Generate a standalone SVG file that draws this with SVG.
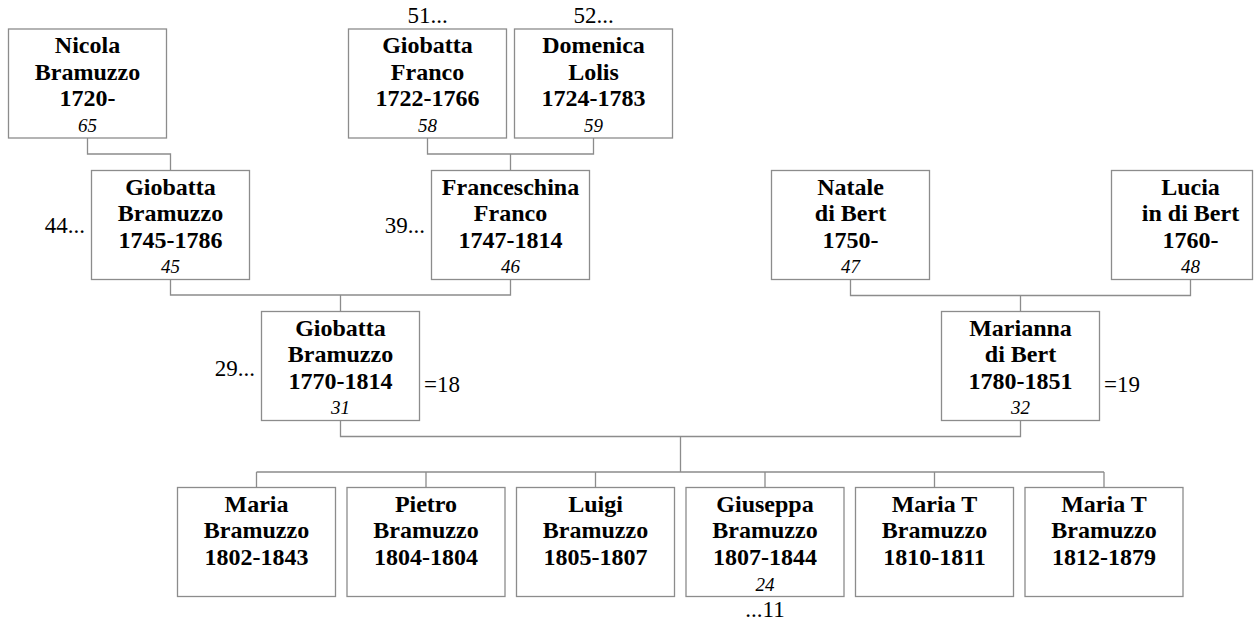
<svg xmlns="http://www.w3.org/2000/svg" width="1259" height="624" viewBox="0 0 1259 624">
<style>
.box{fill:#fff;stroke:#8c8c8c;stroke-width:1.3}
.n{font-family:"Liberation Serif","Times New Roman",serif;font-weight:bold;font-size:24px;fill:#000;text-anchor:middle}
.i{font-family:"Liberation Serif","Times New Roman",serif;font-style:italic;font-size:19px;fill:#000;text-anchor:middle}
.l{font-family:"Liberation Serif","Times New Roman",serif;font-size:23px;fill:#000}
.c{fill:none;stroke:#8c8c8c;stroke-width:1.3}
</style>
<rect width="1259" height="624" fill="#fff"/>
<g id="connectors" class="c">
<path d="M87.5 138 V154 H170.5 V170.5"/>
<path d="M427.5 138 V154 H593.5 V138 M510.5 154 V170.5"/>
<path d="M170.5 279.5 V295 H510.5 V279.5 M340.5 295 V311.5"/>
<path d="M850.5 279.5 V295.5 H1190.5 V279.5 M1020.5 295.5 V311.5"/>
<path d="M340.5 420.5 V436.5 H1020.5 V420.5 M680.5 436.5 V472"/>
<path d="M256.5 472 H1104 M256.5 472 V487.5 M426 472 V487.5 M595.5 472 V487.5 M765 472 V487.5 M934.5 472 V487.5 M1104 472 V487.5"/>
</g>
<g id="n65">
<rect class="box" x="8.5" y="29" width="158" height="109"/>
<text class="n" x="87.5" y="53">Nicola</text>
<text class="n" x="87.5" y="79.5">Bramuzzo</text>
<text class="n" x="87.5" y="106">1720-</text>
<text class="i" x="87.5" y="132">65</text>
</g>
<g id="n58">
<text class="l" x="427.5" y="23" text-anchor="middle">51...</text>
<rect class="box" x="348.5" y="29" width="158" height="109"/>
<text class="n" x="427.5" y="53">Giobatta</text>
<text class="n" x="427.5" y="79.5">Franco</text>
<text class="n" x="427.5" y="106">1722-1766</text>
<text class="i" x="427.5" y="132">58</text>
</g>
<g id="n59">
<text class="l" x="593.5" y="23" text-anchor="middle">52...</text>
<rect class="box" x="514.5" y="29" width="158" height="109"/>
<text class="n" x="593.5" y="53">Domenica</text>
<text class="n" x="593.5" y="79.5">Lolis</text>
<text class="n" x="593.5" y="106">1724-1783</text>
<text class="i" x="593.5" y="132">59</text>
</g>
<g id="n45">
<text class="l" x="85" y="233" text-anchor="end">44...</text>
<rect class="box" x="91.5" y="170.5" width="158" height="109"/>
<text class="n" x="170.5" y="194.5">Giobatta</text>
<text class="n" x="170.5" y="221">Bramuzzo</text>
<text class="n" x="170.5" y="247.5">1745-1786</text>
<text class="i" x="170.5" y="273">45</text>
</g>
<g id="n46">
<text class="l" x="425" y="233" text-anchor="end">39...</text>
<rect class="box" x="431.5" y="170.5" width="158" height="109"/>
<text class="n" x="510.5" y="194.5">Franceschina</text>
<text class="n" x="510.5" y="221">Franco</text>
<text class="n" x="510.5" y="247.5">1747-1814</text>
<text class="i" x="510.5" y="273">46</text>
</g>
<g id="n47">
<rect class="box" x="771.5" y="170.5" width="158" height="109"/>
<text class="n" x="850.5" y="194.5">Natale</text>
<text class="n" x="850.5" y="221">di Bert</text>
<text class="n" x="850.5" y="247.5">1750-</text>
<text class="i" x="850.5" y="273">47</text>
</g>
<g id="n48">
<rect class="box" x="1111.5" y="170.5" width="141" height="109"/>
<text class="n" x="1190.5" y="194.5">Lucia</text>
<text class="n" x="1190.5" y="221">in di Bert</text>
<text class="n" x="1190.5" y="247.5">1760-</text>
<text class="i" x="1190.5" y="273">48</text>
</g>
<g id="n31">
<text class="l" x="255" y="376" text-anchor="end">29...</text>
<rect class="box" x="261.5" y="311.5" width="158" height="109"/>
<text class="n" x="340.5" y="335.5">Giobatta</text>
<text class="n" x="340.5" y="362">Bramuzzo</text>
<text class="n" x="340.5" y="388.5">1770-1814</text>
<text class="i" x="340.5" y="414">31</text>
<text class="l" x="424" y="392">=18</text>
</g>
<g id="n32">
<rect class="box" x="941.5" y="311.5" width="158" height="109"/>
<text class="n" x="1020.5" y="335.5">Marianna</text>
<text class="n" x="1020.5" y="362">di Bert</text>
<text class="n" x="1020.5" y="388.5">1780-1851</text>
<text class="i" x="1020.5" y="414">32</text>
<text class="l" x="1104" y="392">=19</text>
</g>
<g id="c1">
<rect class="box" x="177.5" y="487.5" width="158" height="109"/>
<text class="n" x="256.5" y="511.5">Maria</text>
<text class="n" x="256.5" y="538">Bramuzzo</text>
<text class="n" x="256.5" y="564.5">1802-1843</text>
</g>
<g id="c2">
<rect class="box" x="347" y="487.5" width="158" height="109"/>
<text class="n" x="426" y="511.5">Pietro</text>
<text class="n" x="426" y="538">Bramuzzo</text>
<text class="n" x="426" y="564.5">1804-1804</text>
</g>
<g id="c3">
<rect class="box" x="516.5" y="487.5" width="158" height="109"/>
<text class="n" x="595.5" y="511.5">Luigi</text>
<text class="n" x="595.5" y="538">Bramuzzo</text>
<text class="n" x="595.5" y="564.5">1805-1807</text>
</g>
<g id="c4">
<rect class="box" x="686" y="487.5" width="158" height="109"/>
<text class="n" x="765" y="511.5">Giuseppa</text>
<text class="n" x="765" y="538">Bramuzzo</text>
<text class="n" x="765" y="564.5">1807-1844</text>
<text class="i" x="765" y="591">24</text>
<text class="l" x="765" y="617" text-anchor="middle">...11</text>
</g>
<g id="c5">
<rect class="box" x="855.5" y="487.5" width="158" height="109"/>
<text class="n" x="934.5" y="511.5">Maria T</text>
<text class="n" x="934.5" y="538">Bramuzzo</text>
<text class="n" x="934.5" y="564.5">1810-1811</text>
</g>
<g id="c6">
<rect class="box" x="1025" y="487.5" width="158" height="109"/>
<text class="n" x="1104" y="511.5">Maria T</text>
<text class="n" x="1104" y="538">Bramuzzo</text>
<text class="n" x="1104" y="564.5">1812-1879</text>
</g>
</svg>
